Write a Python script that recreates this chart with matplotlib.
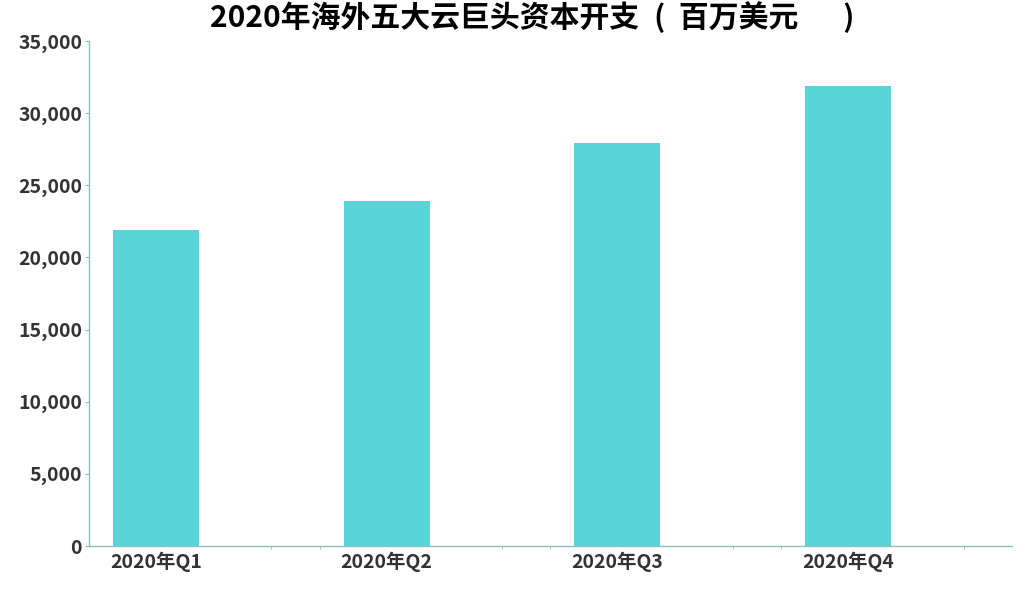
import matplotlib
matplotlib.use('Agg')
import matplotlib.pyplot as plt
from matplotlib.ticker import FuncFormatter

plt.rcParams['font.family'] = ['Noto Sans CJK SC', 'DejaVu Sans']

# 数据
quarters = ['2020年Q1', '2020年Q2', '2020年Q3', '2020年Q4']
capex = [21900, 23900, 27900, 31900]

bar_color = '#5ad4d8'
axis_color = '#8dbcc4'
text_color = '#333333'

fig = plt.figure(figsize=(10.2, 6.13), dpi=100)
ax = fig.add_axes([89 / 1020, 1 - 546 / 613, 923 / 1020, 505 / 613])

# 每个类目占一格, 柱子偏左
pos = [i + 0.29 for i in range(len(quarters))]
ax.bar(pos, capex, width=0.373, color=bar_color)

ax.set_xlim(0, 4)
ax.set_ylim(0, 35000)
ax.set_yticks(range(0, 35001, 5000))
ax.yaxis.set_major_formatter(FuncFormatter(lambda v, p: f'{int(v):,}'))
ax.set_xticks(pos)
ax.set_xticklabels(quarters)
ax.set_xticks([0.79, 1, 1.79, 2, 2.79, 3, 3.79], minor=True)

for s in ['top', 'right']:
    ax.spines[s].set_visible(False)
for s in ['left', 'bottom']:
    ax.spines[s].set_color(axis_color)
    ax.spines[s].set_linewidth(1)

ax.tick_params(axis='y', colors=axis_color, length=3, labelcolor=text_color,
               labelsize=14, pad=2)
ax.tick_params(axis='x', which='major', length=0, labelcolor=text_color,
               labelsize=14, pad=4)
ax.tick_params(axis='x', which='minor', length=2, colors=axis_color)
for lab in ax.get_xticklabels() + ax.get_yticklabels():
    lab.set_fontweight('bold')

title = '2020年海外五大云巨头资本开支\u2002(  百万美元\u2003\u2002)'
fig.text(532 / 1020, 1 - 17 / 613, title,
         ha='center', va='center', fontsize=21.5, fontweight='bold', color='black')

plt.savefig('out.png')
